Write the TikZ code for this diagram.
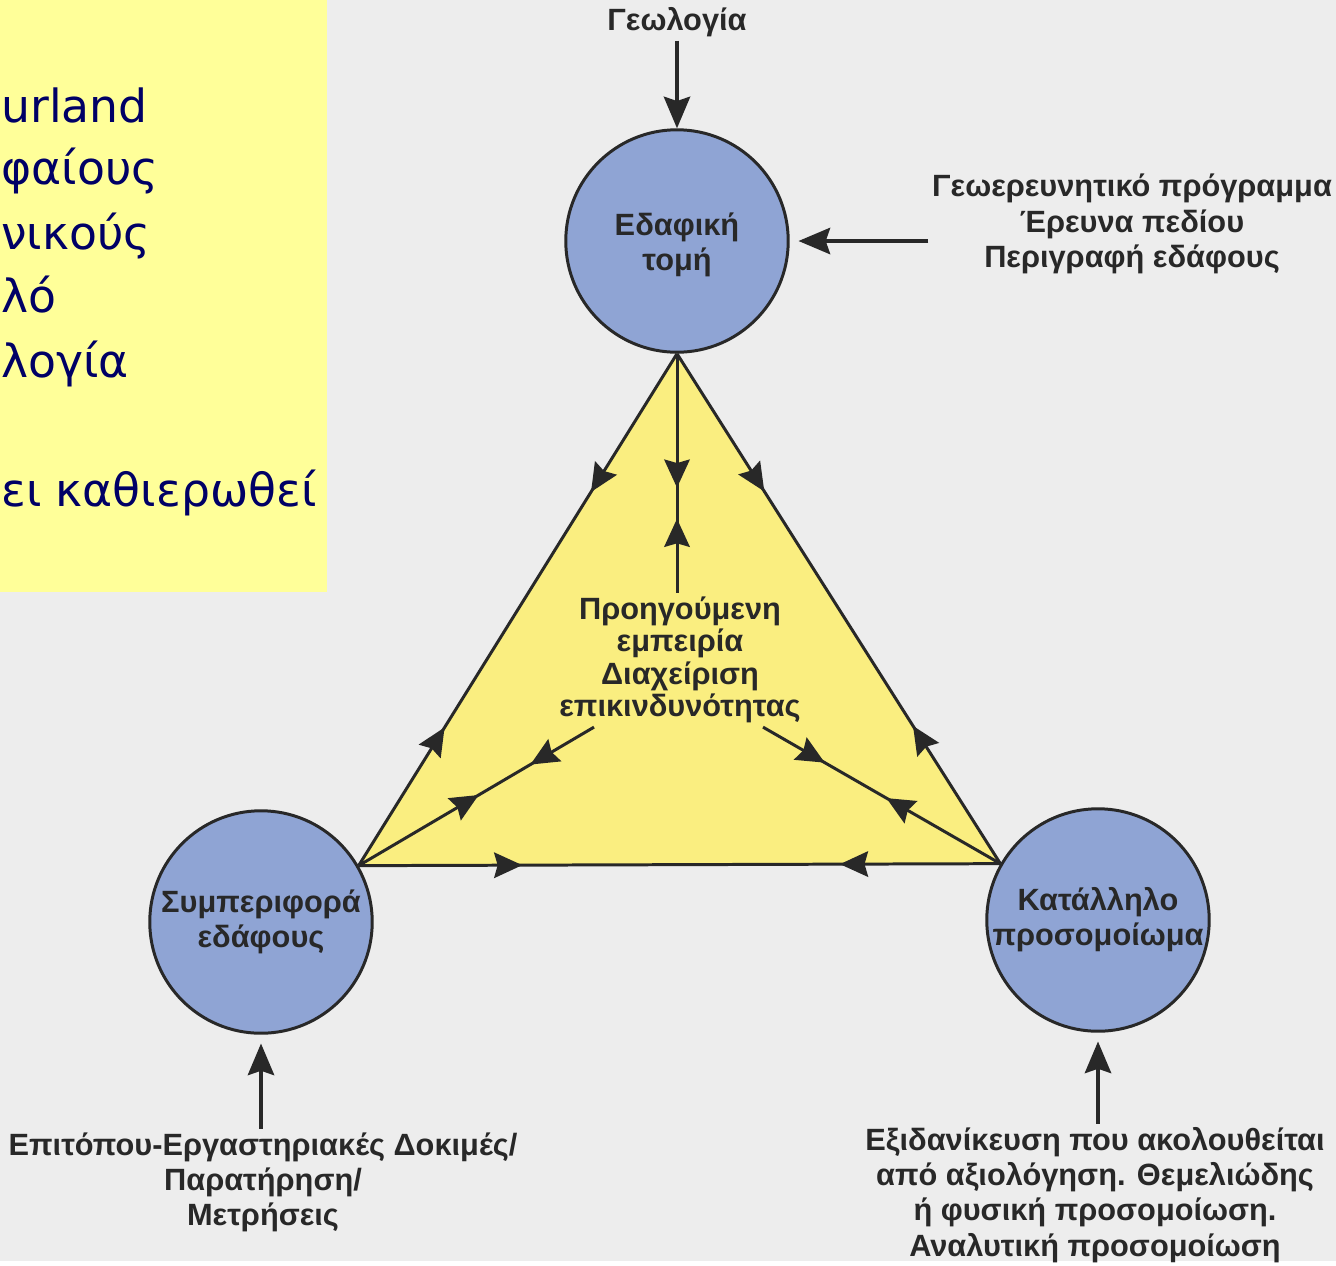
\documentclass[tikz,border=0pt]{standalone}
\usepackage{fontspec}
\setmainfont{Liberation Sans}
\newfontfamily\boxfont{DejaVu Sans}
\usetikzlibrary{positioning,calc,arrows.meta,decorations.markings}

\definecolor{bgcol}{RGB}{237,237,237}
\definecolor{notecol}{RGB}{255,255,153}
\definecolor{notetext}{RGB}{0,0,102}
\definecolor{trifill}{RGB}{250,238,128}
\definecolor{circfill}{RGB}{143,164,212}
\definecolor{inkcol}{RGB}{40,40,40}

\tikzset{
  tri/.tip={Stealth[length=16pt,width=14.5pt,inset=2pt]},
  bigtri/.tip={Stealth[length=18pt,width=15pt,inset=2.5pt]},
  soilcircle/.style={circle,draw=inkcol,line width=1.7pt,fill=circfill,minimum size=4.45cm,inner sep=0pt},
  lbl/.style={align=center,text=inkcol,inner sep=2pt,font=\fontsize{17.5}{20}\selectfont\bfseries},
  boxtxt/.style={anchor=base west,text=notetext,inner sep=0pt,font=\boxfont\fontsize{26}{31}\selectfont},
  edge/.style={draw=inkcol,line width=1.7pt},
  inarrow/.style={-bigtri,draw=inkcol,line width=2pt},
  twoway/.style 2 args={postaction={decorate,decoration={markings,
      mark=at position #1 with {\arrow{tri}},
      mark=at position #2 with {\arrowreversed{tri}}}}},
}

\begin{document}
\begin{tikzpicture}[x=0.02cm,y=-0.02cm,line join=round]
    \fill[bgcol] (0,0) rectangle (1336,1261); % Background
    \fill[notecol] (0,0) rectangle (327,592); % Slide note

    \node[boxtxt] (n1) at (1,122) {urland};
    \node[boxtxt] (n2) at (1,184) {φαίους};
    \node[boxtxt] (n3) at (1,249) {νικούς};
    \node[boxtxt] (n4) at (1,312) {λό};
    \node[boxtxt] (n5) at (1,377) {λογία};
    \node[boxtxt] (n6) at (1,506) {ει καθιερωθεί};

    % Circles
    \node[soilcircle] (sec) at (677,241) {};
    \node[soilcircle] (beh) at (261,922) {};
    \node[soilcircle] (mod) at (1098,920) {};
    \node[lbl] (seclbl) at (677,245) {Εδαφική\\τομή};
    \node[lbl] (behlbl) at (beh) {Συμπεριφορά\\εδάφους};
    \node[lbl] (modlbl) at (mod) {Κατάλληλο\\προσομοίωμα};

    % Triangle
    \coordinate (apex) at (sec.south);
    \coordinate (bl) at (beh.30);
    \coordinate (br) at (mod.150);
    \fill[trifill] (apex) -- (bl) -- (br) -- cycle;
    \node[lbl,font=\fontsize{17.5}{18.5}\selectfont\bfseries] (pc) at (680,660) {Προηγούμενη\\εμπειρία\\Διαχείριση\\επικινδυνότητας};
    \coordinate (pcl) at ($(pc.south)+(-86,0)$);
    \coordinate (pcr) at ($(pc.south)+(83,0)$);

    \draw[edge,twoway={0.27}{0.73}] (apex) -- (bl);
    \draw[edge,twoway={0.27}{0.73}] (apex) -- (br);
    \draw[edge,twoway={0.255}{0.75}] (bl) -- (br);
    \draw[edge,twoway={0.56}{0.69}] (apex) -- (apex |- pc.north);
    \draw[edge,twoway={0.51}{0.73}] (bl) -- (pcl);
    \draw[edge,twoway={0.48}{0.74}] (br) -- (pcr);

    % Inputs
    \node[lbl] (geo) at (677,22) {Γεωλογία};
    \node[lbl] (site) at (1132,224) {Γεωερευνητικό πρόγραμμα\\Έρευνα πεδίου\\Περιγραφή εδάφους};
    \node[lbl] (tests) at (263,1182) {Επιτόπου-Εργαστηριακές Δοκιμές/\\Παρατήρηση/\\Μετρήσεις};
    \node[lbl] (ideal) at (1095,1195) {Εξιδανίκευση που ακολουθείται\\από αξιολόγηση. Θεμελιώδης\\ή φυσική προσομοίωση.\\Αναλυτική προσομοίωση};

    \draw[inarrow] (geo.south) -- (sec.north);
    \draw[inarrow,shorten >=5pt] (site.west |- sec.east) -- (sec.east);
    \draw[inarrow,shorten >=5pt] (tests.north -| beh.south) -- (beh.south);
    \draw[inarrow,shorten >=5pt] (ideal.north -| mod.south) -- (mod.south);
\end{tikzpicture}
\end{document}
